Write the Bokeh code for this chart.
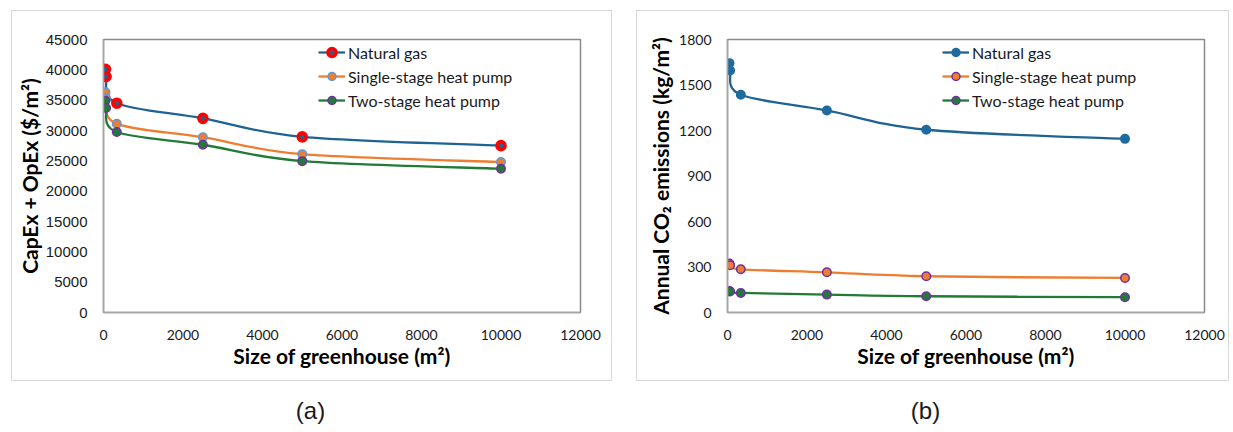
from bokeh.plotting import figure
from bokeh.models import Range1d, FixedTicker, Legend, LegendItem, Label, ColumnDataSource, Spacer
from bokeh.layouts import row, column
from bokeh.embed import file_html
from bokeh.resources import INLINE

# ---------------- data ----------------
series_names = ["Natural gas", "Single-stage heat pump", "Two-stage heat pump"]

size_cost = [50, 65, 335, 2500, 5000, 10000]
cost_ng = [40100, 38900, 34500, 32000, 28950, 27500]
cost_ss = [36300, 35300, 31100, 28900, 26100, 24800]
cost_ts = [34900, 33700, 29750, 27650, 24950, 23700]

size_co2 = [50, 65, 335, 2500, 5000, 10000]
co2_ng = [1644, 1596, 1436, 1332, 1205, 1145]
co2_ss = [323, 312, 285, 265, 239, 228]
co2_ts = [142, 138, 129, 118, 107, 101]

x_ticks = [0, 2000, 4000, 6000, 8000, 10000, 12000]
cost_ticks = [0, 5000, 10000, 15000, 20000, 25000, 30000, 35000, 40000, 45000]
co2_ticks = [0, 300, 600, 900, 1200, 1500, 1800]

BLUE = "#1F6393"
BLUE_M = "#1F6BA0"
ORANGE = "#ED7D31"
GREEN = "#217A35"
PURPLE = "#7030A0"
LBLUE = "#5B9BD5"
RED = "#FF0000"


def smooth_source(xs, ys):
    """Bezier control points (Catmull-Rom) from the data points."""
    n = len(xs)
    d = dict(x0=[], y0=[], x1=[], y1=[], cx0=[], cy0=[], cx1=[], cy1=[])
    for i in range(n - 1):
        pm = i - 1 if i > 0 else i
        pp = i + 2 if i + 2 < n else i + 1
        d["x0"].append(xs[i]); d["y0"].append(ys[i])
        d["x1"].append(xs[i + 1]); d["y1"].append(ys[i + 1])
        d["cx0"].append(xs[i] + (xs[i + 1] - xs[pm]) / 6.0)
        d["cy0"].append(ys[i] + (ys[i + 1] - ys[pm]) / 6.0)
        d["cx1"].append(xs[i + 1] - (xs[pp] - xs[i]) / 6.0)
        d["cy1"].append(ys[i + 1] - (ys[pp] - ys[i]) / 6.0)
    return ColumnDataSource(d)


def make_panel(width, border_left, border_right, y_max, y_ticks, xs, series, styles,
               y_label, y_tick_font, y_tick_size, y_label_standoff, legend_x):
    p = figure(width=width, height=369, output_backend="svg", toolbar_location=None,
               x_range=Range1d(0, 12000), y_range=Range1d(0, y_max),
               min_border_left=border_left, min_border_right=border_right,
               min_border_top=28, min_border_bottom=68)
    p.grid.visible = False
    p.outline_line_color = "#8a8a8a"
    p.outline_line_width = 1.5
    p.background_fill_color = "white"
    p.border_fill_color = "white"

    for ax in (p.xaxis[0], p.yaxis[0]):
        ax.axis_line_color = "#a6a6a6"
        ax.axis_line_width = 1.5
        ax.major_tick_line_color = None
        ax.minor_tick_line_color = None
        ax.major_tick_out = 0
        ax.major_tick_in = 0
        ax.major_label_text_color = "#1a1a1a"
        ax.axis_label_text_color = "#000000"
        ax.axis_label_text_font = "Lato"
        ax.axis_label_text_font_style = "bold"
        ax.axis_label_text_font_size = "21px"

    p.xaxis.ticker = FixedTicker(ticks=x_ticks)
    p.xaxis.major_label_text_font = "Lato"
    p.xaxis.major_label_text_font_size = "14px"
    p.xaxis.major_label_standoff = 17
    p.xaxis.axis_label = "Size of greenhouse (m\u00b2)"
    p.xaxis.axis_label_standoff = 0

    p.yaxis.ticker = FixedTicker(ticks=y_ticks)
    p.yaxis.major_label_text_font = y_tick_font
    p.yaxis.major_label_text_font_size = y_tick_size
    p.yaxis.major_label_standoff = 16
    p.yaxis.axis_label = y_label
    p.yaxis.axis_label_standoff = y_label_standoff

    items = []
    for name, ys, st in zip(series_names, series, styles):
        src = smooth_source(xs, ys)
        bz = p.bezier(x0="x0", y0="y0", x1="x1", y1="y1", cx0="cx0", cy0="cy0",
                      cx1="cx1", cy1="cy1", source=src, line_color=st["line"], line_width=2.3)
        sc = p.scatter(xs, ys, size=st["size"], marker="circle", fill_color=st["fill"],
                       line_color=st["edge"], line_width=st["lw"])
        items.append(LegendItem(label=name, renderers=[bz, sc]))

    legend = Legend(items=items, location=(legend_x, 202), orientation="vertical",
                    border_line_color=None, background_fill_alpha=0, padding=0, margin=0,
                    spacing=4, glyph_width=27, glyph_height=20, label_standoff=3,
                    label_text_font="Lato", label_text_font_size="16px",
                    label_text_color="#1a1a1a")
    p.add_layout(legend)
    return p


def make_caption(width, height, text, cx, cy):
    c = figure(width=width, height=height, output_backend="svg", toolbar_location=None,
               x_range=Range1d(0, width), y_range=Range1d(0, height),
               x_axis_location=None, y_axis_location=None,
               min_border=0, min_border_left=0, min_border_right=0,
               min_border_top=0, min_border_bottom=0)
    c.grid.visible = False
    c.outline_line_color = None
    c.add_layout(Label(x=cx, y=cy, text=text, text_align="center", text_baseline="middle",
                       text_font="Liberation Sans", text_font_size="24px",
                       text_color="#1a1a1a"))
    return c


styles_a = [
    dict(line=BLUE, fill=BLUE, edge=RED, lw=3.6, size=8),
    dict(line=ORANGE, fill=ORANGE, edge=LBLUE, lw=1.5, size=8.5),
    dict(line=GREEN, fill=GREEN, edge=PURPLE, lw=1.5, size=8.5),
]
styles_b = [
    dict(line=BLUE, fill=BLUE_M, edge=BLUE_M, lw=1.5, size=8.5),
    dict(line=ORANGE, fill=ORANGE, edge=PURPLE, lw=1.5, size=8.5),
    dict(line=GREEN, fill=GREEN, edge=PURPLE, lw=1.5, size=8.5),
]

BOX = {"border": "1px solid #d9d9d9"}

pa = make_panel(599, 91, 31, 45000, cost_ticks, size_cost, [cost_ng, cost_ss, cost_ts], styles_a,
                "CapEx + OpEx ($/m\u00b2)", "Liberation Sans", "15px", 1, 215)
pb = make_panel(591, 90, 24, 1800, co2_ticks, size_co2, [co2_ng, co2_ss, co2_ts], styles_b,
                "Annual CO\u2082 emissions (kg/m\u00b2)", "Lato", "14px", 3, 215)

box_a = column(pa, styles=BOX)
box_b = column(pb, styles=BOX)

ca = make_caption(622, 51, "(a)", 310, 22)
cb = make_caption(607, 51, "(b)", 303, 22)

left_col = column(Spacer(width=622, height=10), row(Spacer(width=11, height=371), box_a), ca)
right_col = column(Spacer(width=607, height=10), row(Spacer(width=14, height=371), box_b), cb)

layout = row(left_col, right_col)
open("out.html", "w").write(file_html(layout, INLINE))
